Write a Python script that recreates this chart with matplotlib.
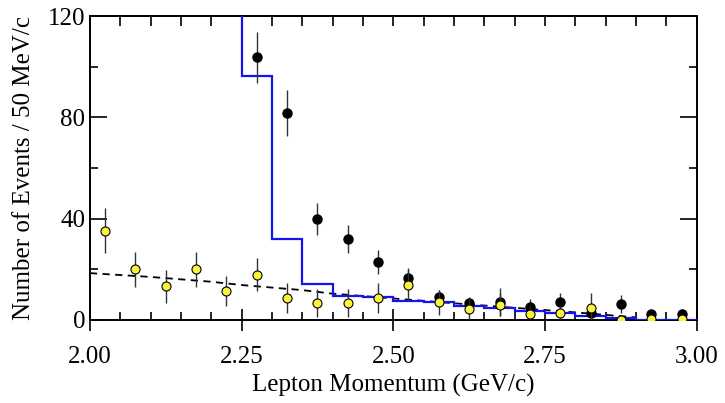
import numpy as np
import matplotlib
matplotlib.use('Agg')
import matplotlib.pyplot as plt
from matplotlib.ticker import MultipleLocator

plt.rcParams['font.family'] = ['Liberation Serif', 'DejaVu Serif']

# bin centres (50 MeV/c bins)
x_yel = [2.025, 2.075, 2.125, 2.175, 2.225, 2.275, 2.325, 2.375, 2.425, 2.475,
         2.525, 2.575, 2.625, 2.675, 2.725, 2.775, 2.825, 2.875, 2.925, 2.975]
y_yel = [35.3, 20, 13.4, 20, 11.4, 17.8, 8.8, 6.8, 6.8, 8.8,
         13.8, 7, 4.3, 6, 2.4, 2.7, 4.6, 0, 0.2, 0.2]
e_yel = [9, 7, 6.5, 7, 5.8, 6.5, 6, 5.5, 5.5, 6,
         6, 5, 4, 4.5, 3, 3, 6, 0, 0, 0]

x_blk = [2.275, 2.325, 2.375, 2.425, 2.475, 2.525, 2.575, 2.625, 2.675, 2.725,
         2.775, 2.825, 2.875, 2.925, 2.975]
y_blk = [103.7, 81.8, 39.9, 32, 23, 16.4, 9, 6.6, 7, 5.3,
         7.2, 2.8, 6.3, 2.2, 2.2]
e_blk = [10, 9, 6.3, 5.7, 4.7, 4, 3, 2.5, 5.5, 3,
         3.5, 2, 3.5, 2, 2]

# MC histogram (first bin is off scale)
mc_edges = [2.20, 2.25, 2.30, 2.35, 2.40, 2.45, 2.50, 2.55, 2.60, 2.65, 2.70,
            2.75, 2.80, 2.85, 2.90, 2.95, 3.00]
mc_vals = [300, 96.4, 31.8, 14.3, 9.6, 9.0, 7.6, 7.0, 5.7, 4.9, 3.6,
           2.9, 1.7, 0.7, 0.1, 0.1]

# background fit (dashed)
bg_x = [2.0, 2.1, 2.2, 2.25, 2.3, 2.35, 2.4, 2.5, 2.6, 2.7, 2.8, 2.9]
bg_y = [18.5, 17.0, 15.1, 13.8, 12.8, 11.8, 10.4, 8.5, 6.6, 4.8, 3.0, 1.0]

fig = plt.figure(figsize=(7.25, 4.03), dpi=100)
ax = fig.add_axes([0.124, 0.206, 0.837, 0.754])

ax.plot(bg_x, bg_y, ls=(0, (4, 3)), color='black', lw=1.3, zorder=2)
ax.stairs(mc_vals, mc_edges, baseline=None, color='#1414ee', lw=1.6, zorder=3)

ax.errorbar(x_blk, y_blk, yerr=e_blk, fmt='o', color='black', ms=6.5,
            ecolor='#333333', elinewidth=1, capsize=0, zorder=4)
ax.errorbar(x_yel, y_yel, yerr=e_yel, fmt='o', mfc='#fbf23c', mec='black',
            mew=0.8, ms=6.5, ecolor='#333333', elinewidth=1, capsize=0, zorder=5)

ax.set_xlim(2.0, 3.0)
ax.set_ylim(0, 120)
ax.xaxis.set_major_locator(MultipleLocator(0.25))
ax.xaxis.set_minor_locator(MultipleLocator(0.05))
ax.yaxis.set_major_locator(MultipleLocator(40))
ax.yaxis.set_minor_locator(MultipleLocator(20))
ax.xaxis.set_major_formatter(plt.FormatStrFormatter('%.2f'))

ax.tick_params(axis='x', which='major', direction='inout', length=16, width=1.2,
               labelsize=18, pad=11)
ax.tick_params(axis='x', which='minor', direction='in', length=6, width=1.2)
ax.tick_params(axis='y', which='major', direction='in', length=12, width=1.2,
               labelsize=18, right=True)
ax.tick_params(axis='y', which='minor', direction='in', length=6, width=1.2,
               right=True)

top = ax.secondary_xaxis('top')
top.xaxis.set_major_locator(MultipleLocator(0.25))
top.xaxis.set_minor_locator(MultipleLocator(0.05))
top.tick_params(which='major', direction='in', length=7, width=1.2, labeltop=False)
top.tick_params(which='minor', direction='in', length=7, width=1.2)

for s in ax.spines.values():
    s.set_linewidth(1.4)
top.spines['top'].set_linewidth(1.4)

ax.set_xlabel('Lepton Momentum (GeV/c)', fontsize=18, labelpad=4)
ax.set_ylabel('Number of Events / 50 MeV/c', fontsize=18, labelpad=9)

fig.savefig('out.png', dpi=100)
